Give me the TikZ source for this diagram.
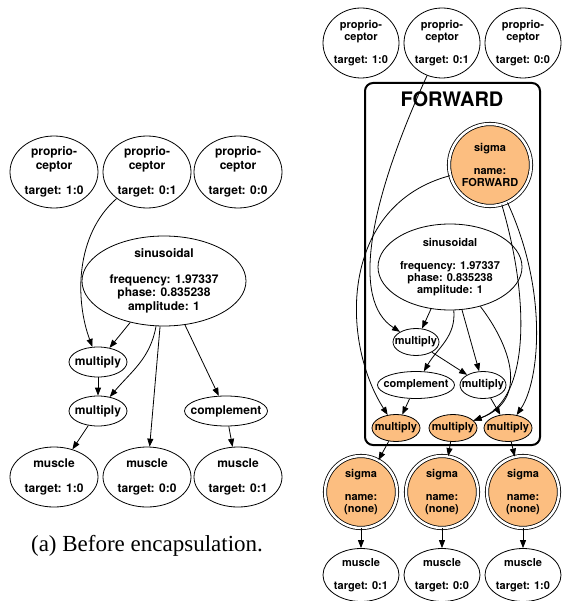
\documentclass[tikz,border=0pt]{standalone}
\usepackage{fontspec}
\setmainfont{Liberation Serif}
\setsansfont{TeX Gyre Heros}
\usetikzlibrary{shapes.geometric,arrows.meta}
\definecolor{sigmaorange}{RGB}{252,190,128}
\begin{document}
\begin{tikzpicture}[x=1pt,y=1pt,line width=0.8pt,>={Triangle[length=8pt,width=6pt]},
  cell/.style={ellipse,draw,inner sep=-20pt,align=center,font=\sffamily\bfseries\fontsize{12}{13.5}\selectfont},
  smallcell/.style={cell,font=\sffamily\bfseries\fontsize{11}{12}\selectfont},
  sigmacell/.style={circle,draw,double=white,double distance=2.5pt,fill=sigmaorange,inner sep=-20pt,align=center,font=\sffamily\bfseries\fontsize{11}{12}\selectfont}]
\useasboundingbox (0,0) rectangle (561,-601);
% (a) before encapsulation
\node[cell,minimum width=88pt,minimum height=72pt] (pa1) at (54,-172) {proprio-\\ceptor\\[12pt]target: 1:0};
\node[cell,minimum width=88pt,minimum height=72pt] (pa2) at (147,-172) {proprio-\\ceptor\\[12pt]target: 0:1};
\node[cell,minimum width=88pt,minimum height=72pt] (pa3) at (238,-172) {proprio-\\ceptor\\[12pt]target: 0:0};
\node[cell,minimum width=164pt,minimum height=90pt] (sa) at (164,-281) {sinusoidal\\[12pt]frequency: 1.97337\\phase: 0.835238\\amplitude: 1};
\node[cell,minimum width=58pt,minimum height=30pt] (ma1) at (98,-362) {multiply};
\node[cell,minimum width=58pt,minimum height=30pt] (ma2) at (98,-411) {multiply};
\node[cell,minimum width=83pt,minimum height=30pt] (ca) at (226,-411) {complement};
\node[cell,minimum width=88pt,minimum height=60pt] (musa1) at (54,-477) {muscle\\[12pt]target: 1:0};
\node[cell,minimum width=88pt,minimum height=60pt] (musa2) at (147,-477) {muscle\\[12pt]target: 0:0};
\node[cell,minimum width=88pt,minimum height=60pt] (musa3) at (238,-477) {muscle\\[12pt]target: 0:1};
\draw[->] (pa2) .. controls (75,-235) and (75,-300) .. (ma1);
\draw[->] (sa) -- (ma1);
\draw[->] (ma1) -- (ma2);
\draw[->] (sa) to[out=-100,in=50] (ma2);
\draw[->] (sa) -- (musa2);
\draw[->] (sa) -- (ca);
\draw[->] (ma2) -- (musa1);
\draw[->] (ca) -- (musa3);
\node[font=\fontsize{23}{27}\selectfont] (capa) at (147,-546) {(a) Before encapsulation.};
% (b) after encapsulation
\node[smallcell,minimum width=76pt,minimum height=70pt] (pb1) at (361,-43) {proprio-\\ceptor\\[11pt]target: 1:0};
\node[smallcell,minimum width=76pt,minimum height=70pt] (pb2) at (442,-43) {proprio-\\ceptor\\[11pt]target: 0:1};
\node[smallcell,minimum width=76pt,minimum height=70pt] (pb3) at (523,-43) {proprio-\\ceptor\\[11pt]target: 0:0};
\node[draw,rounded corners=8pt,line width=2pt,minimum width=175pt,minimum height=362pt] (fwd) at (452.5,-264) {};
\node[font=\sffamily\bfseries\fontsize{20}{24}\selectfont] (fwdtitle) at (452,-99) {FORWARD};
\node[sigmacell,minimum size=82pt] (sf) at (490,-165) {sigma\\[11pt]name:\\FORWARD};
\node[smallcell,minimum width=144pt,minimum height=86pt] (sb) at (450,-267) {sinusoidal\\[11pt]frequency: 1.97337\\phase: 0.835238\\amplitude: 1};
\node[smallcell,minimum width=46pt,minimum height=27pt] (mb1) at (416,-342) {multiply};
\node[smallcell,minimum width=77pt,minimum height=27pt] (cb) at (416,-385) {complement};
\node[smallcell,minimum width=46pt,minimum height=27pt] (mb2) at (483,-385) {multiply};
\node[smallcell,fill=sigmaorange,minimum width=48pt,minimum height=27pt] (ob1) at (396,-428) {multiply};
\node[smallcell,fill=sigmaorange,minimum width=48pt,minimum height=27pt] (ob2) at (453,-428) {multiply};
\node[smallcell,fill=sigmaorange,minimum width=48pt,minimum height=27pt] (ob3) at (508,-428) {multiply};
\node[sigmacell,minimum size=72pt] (gb1) at (361,-492) {sigma\\[11pt]name:\\(none)};
\node[sigmacell,minimum size=72pt] (gb2) at (442,-492) {sigma\\[11pt]name:\\(none)};
\node[sigmacell,minimum size=72pt] (gb3) at (523,-492) {sigma\\[11pt]name:\\(none)};
\node[smallcell,minimum width=76pt,minimum height=53pt] (ub1) at (361,-575) {muscle\\[11pt]target: 0:1};
\node[smallcell,minimum width=76pt,minimum height=53pt] (ub2) at (442,-575) {muscle\\[11pt]target: 0:0};
\node[smallcell,minimum width=76pt,minimum height=53pt] (ub3) at (523,-575) {muscle\\[11pt]target: 1:0};
\draw[->] (pb2) .. controls (370,-200) and (350,-300) .. (mb1);
\draw[->] (sf) .. controls (340,-205) and (340,-340) .. (ob1);
\draw[->] (sf) .. controls (530,-300) and (530,-400) .. (ob2);
\draw[->] (sf) .. controls (548,-290) and (540,-380) .. (ob3);
\draw[->] (sb) .. controls (510,-345) and (530,-400) .. (ob2);
\draw[->] (sb) -- (mb1);
\draw[->] (sb) to[out=-85,in=60] (cb);
\draw[->] (sb) -- (mb2);
\draw[->] (mb1) -- (mb2);
\draw[->] (cb) -- (ob1);
\draw[->] (mb2) -- (ob3);
\draw[->] (ob1) -- (gb1);
\draw[->] (ob2) -- (gb2);
\draw[->] (ob3) -- (gb3);
\draw[->] (gb1) -- (ub1);
\draw[->] (gb2) -- (ub2);
\draw[->] (gb3) -- (ub3);
\end{tikzpicture}
\end{document}
